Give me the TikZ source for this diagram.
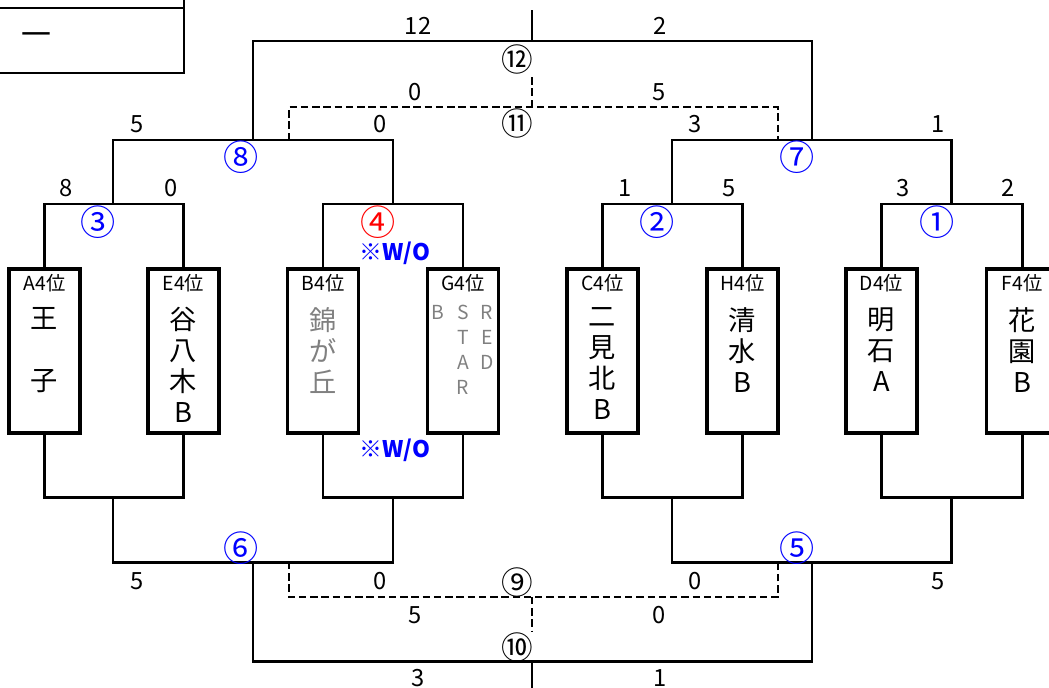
\documentclass[tikz,border=0pt]{standalone}
\usepackage{fontspec}
\setmainfont{Noto Sans CJK JP}
\usetikzlibrary{positioning}
\definecolor{roundBlue}{RGB}{0,0,255}
\definecolor{roundRed}{RGB}{255,0,0}
\definecolor{teamGray}{RGB}{128,128,128}
\tikzset{
  wire/.style={line width=1.7pt},
  wire dash/.style={line width=1.3pt,dash pattern=on 4.2pt off 2.2pt},
  tick/.style={line width=1.2pt},
  teambox/.style={rectangle,draw,line width=1.9pt,minimum width=1.42cm,
    minimum height=3.28cm,inner sep=0pt},
  seed/.style={font=\fontsize{11}{13}\selectfont,inner sep=0pt},
  teamname/.style={font=\fontsize{15.5}{17.6}\selectfont,align=center,inner sep=0pt},
  starname/.style={font=\fontsize{11}{14.2}\selectfont,align=center,inner sep=0pt,
    text=teamGray},
  score/.style={font=\fontsize{13.5}{15}\selectfont,inner sep=0pt},
  gameno/.style={font=\fontsize{18}{20}\selectfont,inner sep=0pt},
  roundno/.style={font=\fontsize{20}{22}\selectfont,inner sep=0pt,text=roundBlue},
  walkover/.style={font=\bfseries\fontsize{13}{15}\selectfont,text=roundBlue,inner sep=0pt}
}

\begin{document}
\begin{tikzpicture}[x=0.02cm,y=-0.02cm]
  \useasboundingbox (0,0) rectangle (1049,687);

  % block header (cut off)
  \draw[wire] (-10,8) -- (184,8);
  \draw[wire] (184,0) -- (184,73) -- (-10,73);
  \node[font=\fontsize{17}{19}\selectfont,inner sep=0pt] (blk) at (36,39) {一};

  % teams
  \node[teambox] (A) at (44.5,351) {};
  \node[teambox] (E) at (183.5,351) {};
  \node[teambox] (B) at (323,351) {};
  \node[teambox] (G) at (463,351) {};
  \node[teambox] (C) at (602.5,351) {};
  \node[teambox] (H) at (742.5,351) {};
  \node[teambox] (D) at (881.5,351) {};
  \node[teambox] (F) at (1022,351) {};

  \node[seed] (hA) at ([yshift=-9pt]A.north) {A4位};
  \node[seed] (hE) at ([yshift=-9pt]E.north) {E4位};
  \node[seed] (hB) at ([yshift=-9pt]B.north) {B4位};
  \node[seed] (hG) at ([yshift=-9pt]G.north) {G4位};
  \node[seed] (hC) at ([yshift=-9pt]C.north) {C4位};
  \node[seed] (hH) at ([yshift=-9pt]H.north) {H4位};
  \node[seed] (hD) at ([yshift=-9pt]D.north) {D4位};
  \node[seed] (hF) at ([yshift=-9pt]F.north) {F4位};

  \node[teamname, below=8.5pt of hA] (nA) {王\\ \\子};
  \node[teamname, below=8.5pt of hE] (nE) {谷\\八\\木\\B};
  \node[teamname, below=8.5pt of hB, text=teamGray] (nB) {錦\\が\\丘};
  \node[teamname, below=8.5pt of hC] (nC) {二\\見\\北\\B};
  \node[teamname, below=8.5pt of hH] (nH) {清\\水\\B};
  \node[teamname, below=8.5pt of hD] (nD) {明\\石\\A};
  \node[teamname, below=8.5pt of hF] (nF) {花\\園\\B};
  \node[starname, below=7pt of hG] (nG) {S\\T\\A\\R};
  \node[starname, anchor=north] (nGb) at ([xshift=-0.5cm]nG.north) {B};
  \node[starname, anchor=north] (nGr) at ([xshift=0.48cm]nG.north) {R\\E\\D};

  % bracket junctions
  \coordinate (j3) at (113,204);
  \coordinate (j4) at (393,204);
  \coordinate (j2) at (672,204);
  \coordinate (j1) at (951,204);
  \coordinate (j8) at (253,140);
  \coordinate (j7) at (812,140);
  \coordinate (j12) at (532,41);
  \coordinate (top) at (532,10);
  \coordinate (d8) at (289,140);
  \coordinate (d7) at (778,140);
  \coordinate (j11) at (532,107);
  \coordinate (j11tip) at (532,75);
  \coordinate (k3) at (113,497);
  \coordinate (k4) at (393,497);
  \coordinate (k2) at (672,497);
  \coordinate (k1) at (951,497);
  \coordinate (k6) at (253,562);
  \coordinate (k5) at (812,562);
  \coordinate (k10) at (532,661);
  \coordinate (bottom) at (532,690);
  \coordinate (e6) at (289,562);
  \coordinate (e5) at (778,562);
  \coordinate (k9) at (532,597);
  \coordinate (k9tip) at (532,631);

  % upper bracket
  \draw[wire] (A.north) |- (j3) -| (E.north);
  \draw[wire] (B.north) |- (j4) -| (G.north);
  \draw[wire] (C.north) |- (j2) -| (H.north);
  \draw[wire] (D.north) |- (j1) -| (F.north);
  \draw[wire] (j3) |- (j8) -| (j4);
  \draw[wire] (j2) |- (j7) -| (j1);
  \draw[wire] (j8) |- (j12) -| (j7);
  \draw[tick] (j12) -- (top);
  \draw[wire dash] (d8) |- (j11) -| (d7);
  \draw[wire dash] (j11) -- (j11tip);

  % lower bracket
  \draw[wire] (A.south) |- (k3) -| (E.south);
  \draw[wire] (B.south) |- (k4) -| (G.south);
  \draw[wire] (C.south) |- (k2) -| (H.south);
  \draw[wire] (D.south) |- (k1) -| (F.south);
  \draw[wire] (k3) |- (k6) -| (k4);
  \draw[wire] (k2) |- (k5) -| (k1);
  \draw[wire] (k6) |- (k10) -| (k5);
  \draw[tick] (k10) -- (bottom);
  \draw[wire dash] (e6) |- (k9) -| (e5);
  \draw[wire dash] (k9) -- (k9tip);

  % game numbers
  \node[roundno] (g1) at (937,222) {①};
  \node[roundno] (g2) at (657,222) {②};
  \node[roundno] (g3) at (98,222) {③};
  \node[roundno, text=roundRed] (g4) at (378,222) {④};
  \node[roundno] (g5) at (797,548) {⑤};
  \node[roundno] (g6) at (241,548) {⑥};
  \node[roundno] (g7) at (797,157) {⑦};
  \node[roundno] (g8) at (241,157) {⑧};
  \node[gameno] (g9) at (517,582) {⑨};
  \node[gameno] (g10) at (517,647) {⑩};
  \node[gameno] (g11) at (517,123) {⑪};
  \node[gameno] (g12) at (517,59) {⑫};

  \node[walkover] (wo1) at (395,253) {※W/O};
  \node[walkover] (wo2) at (395,450) {※W/O};

  % scores
  \node[score] at (418,26) {12};
  \node[score] at (660,26) {2};
  \node[score] at (415,92) {0};
  \node[score] at (659,92) {5};
  \node[score] at (137,124) {5};
  \node[score] at (380,124) {0};
  \node[score] at (695,124) {3};
  \node[score] at (938,124) {1};
  \node[score] at (66,188) {8};
  \node[score] at (171,188) {0};
  \node[score] at (625,188) {1};
  \node[score] at (729,188) {5};
  \node[score] at (903,188) {3};
  \node[score] at (1008,188) {2};
  \node[score] at (137,581) {5};
  \node[score] at (380,581) {0};
  \node[score] at (695,581) {0};
  \node[score] at (938,581) {5};
  \node[score] at (415,615) {5};
  \node[score] at (659,615) {0};
  \node[score] at (418,678) {3};
  \node[score] at (660,678) {1};
\end{tikzpicture}
\end{document}
